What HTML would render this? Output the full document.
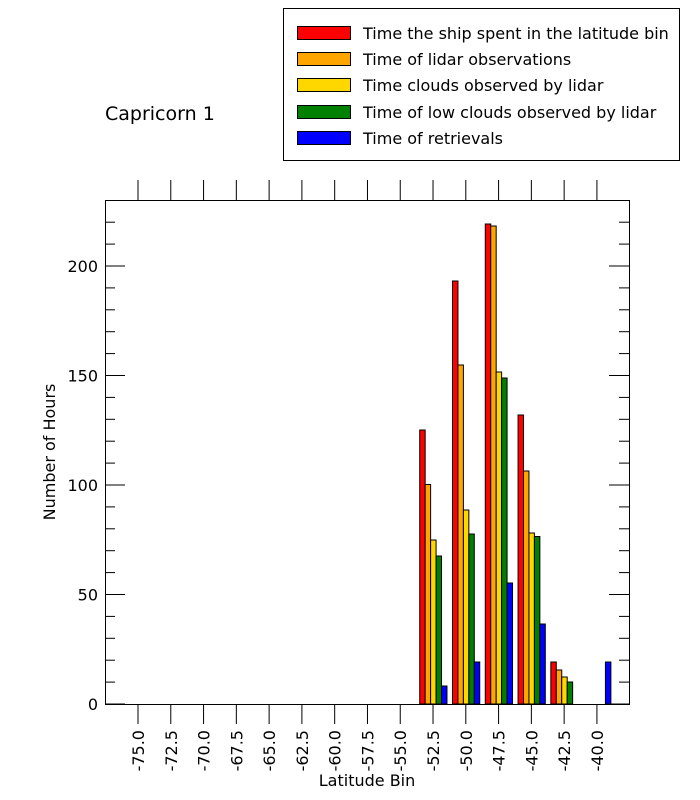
<!DOCTYPE html>
<html><head><style>body{margin:0;background:#fff}svg{display:block}text{font-family:"DejaVu Sans","Liberation Sans",sans-serif;fill:#000}</style></head>
<body>
<svg width="700" height="800" xmlns="http://www.w3.org/2000/svg">
<rect x="283.5" y="8.5" width="396" height="152" fill="#fff" stroke="#000"/>
<g stroke="#000" stroke-width="1">
<rect x="297.5" y="26.5" width="53" height="13" fill="#ff0000"/>
<rect x="297.5" y="52.5" width="53" height="13" fill="#ffa500"/>
<rect x="297.5" y="78.5" width="53" height="13" fill="#ffd700"/>
<rect x="297.5" y="105.5" width="53" height="13" fill="#008000"/>
<rect x="297.5" y="131.5" width="53" height="13" fill="#0000ff"/>
</g>
<g font-size="16">
<text x="363" y="39">Time the ship spent in the latitude bin</text>
<text x="363" y="65">Time of lidar observations</text>
<text x="363" y="91">Time clouds observed by lidar</text>
<text x="363" y="118">Time of low clouds observed by lidar</text>
<text x="363" y="144">Time of retrievals</text>
</g>
<text x="105" y="120" font-size="19">Capricorn 1</text>
<g stroke="#000" stroke-width="1">
<rect x="105.5" y="200.5" width="524" height="504" fill="none"/>
</g>
<g stroke="#000" stroke-width="1" id="bars">
</g>
<g stroke="#000" stroke-width="1" id="ticks"></g>
<g font-size="16" id="labels"></g>
<text x="0" y="0" font-size="16" text-anchor="middle" transform="translate(55,452) rotate(-90)">Number of Hours</text>
<text x="367" y="786" font-size="16" text-anchor="middle">Latitude Bin</text>
<script>
var NS="http://www.w3.org/2000/svg";
function el(p,t,a,txt){var e=document.createElementNS(NS,t);for(var k in a)e.setAttribute(k,a[k]);if(txt)e.textContent=txt;document.getElementById(p).appendChild(e);}
var cols=["#ff0000","#ffa500","#ffd700","#008000","#0000ff"];
function tx(i){return 138+i*32.78;}
var data=[[9,[430,484.5,540,556,686]],[10,[281,365,510,534,662]],[11,[224,226,372,378,583]],[12,[415,471,533,536.5,624]],[13,[662,670,677,682,null]],[14,[null,null,null,null,662]]];
data.forEach(function(d){var s=tx(d[0])-13.3;d[1].forEach(function(t,j){if(t==null)return;el("bars","rect",{x:s+j*5.45,y:t,width:5.45,height:704-t,fill:cols[j]});});});
for(var i=0;i<15;i++){var x=tx(i);el("ticks","line",{x1:x,x2:x,y1:704,y2:724});el("ticks","line",{x1:x,x2:x,y1:180,y2:200});
var lab=(-75+2.5*i).toFixed(1);el("labels","text",{x:0,y:0,"text-anchor":"end",transform:"translate("+(x+6)+",730) rotate(-90)"},lab);}
for(var v=0;v<=220;v+=10){var y=704-v*2.19;var L=(v%50==0)?20:10;el("ticks","line",{x1:105,x2:105+L,y1:y,y2:y});el("ticks","line",{x1:629-L,x2:629,y1:y,y2:y});
if(v%50==0)el("labels","text",{x:98,y:y+6,"text-anchor":"end"},String(v));}
</script>
</svg>
</body></html>
